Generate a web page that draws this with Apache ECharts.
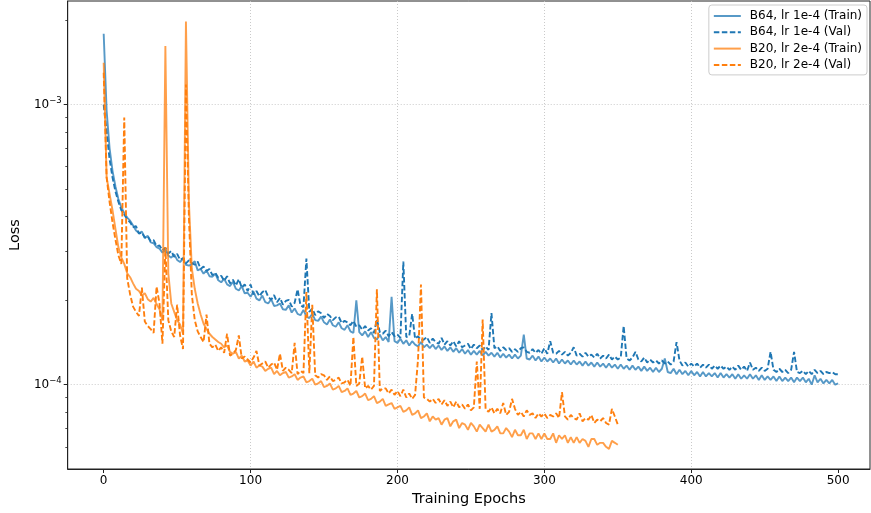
<!DOCTYPE html>
<html>
<head>
<meta charset="utf-8">
<script src="https://cdn.jsdelivr.net/npm/echarts@6/dist/echarts.min.js"></script>
<style>
html,body{margin:0;padding:0;background:#ffffff;}
#chart{width:871px;height:513px;}
</style>
</head>
<body>
<div id="chart"></div>
<script>
// Values are sampled every 2 epochs, in units of 1e-5 (loss).
const EPOCH_STEP = 2;
const VALUE_UNIT = 1e-5;

const seriesNames = ['B64, lr 1e-4 (Train)', 'B64, lr 1e-4 (Val)', 'B20, lr 2e-4 (Train)', 'B20, lr 2e-4 (Val)'];

const b64Train = [
179, 95, 70, 58, 51, 46, 43, 41, 39.5, 38.5,
37, 35.5, 34.8, 35.2, 33.4, 34.0, 32.2, 32.0, 31.0, 30.6,
29.6, 30.4, 28.9, 28.4, 29.2, 27.9, 27.4, 28.2, 26.8, 26.6,
26.9, 27.6, 25.6, 25.9, 24.9, 25.6, 24.4, 24.3, 24.9, 23.6,
23.2, 23.9, 22.8, 22.5, 23.3, 22.0, 21.7, 22.5, 21.2, 21.3,
20.6, 21.5, 20.3, 20.0, 20.8, 19.7, 19.5, 20.2, 19.1, 19.2,
19.5, 18.6, 18.5, 19.2, 18.1, 18.7, 17.9, 17.7, 18.5, 17.5,
17.3, 17.9, 17.0, 16.9, 17.5, 16.7, 16.4, 17.1, 16.3, 16.1,
16.7, 15.9, 15.7, 16.3, 15.5, 15.3, 20.0, 15.4, 15.0, 15.5,
14.8, 15.4, 14.7, 14.5, 15.1, 14.4, 14.8, 14.2, 20.6, 14.3,
14.1, 14.6, 14.0, 14.4, 13.8, 14.3, 13.9, 13.7, 14.2, 13.6,
13.9, 13.5, 13.9, 13.4, 13.8, 13.3, 13.7, 13.2, 13.6, 13.1,
13.5, 13.0, 13.4, 12.9, 13.3, 12.8, 13.2, 12.8, 13.2, 12.7,
13.1, 12.7, 13.0, 12.6, 13.0, 12.5, 12.9, 12.5, 12.8, 12.4,
12.8, 12.4, 12.7, 15.1, 12.4, 12.3, 12.7, 12.2, 12.6, 12.1,
12.5, 12.1, 12.4, 12.0, 12.4, 11.9, 12.3, 11.9, 12.2, 11.8,
12.2, 11.8, 12.1, 11.7, 12.1, 11.7, 12.0, 11.6, 12.0, 11.6,
11.9, 11.5, 11.9, 11.5, 11.8, 11.4, 11.8, 11.4, 11.7, 11.3,
11.7, 11.3, 11.6, 11.2, 11.6, 11.2, 11.5, 11.1, 11.5, 11.1,
11.4, 12.4, 11.1, 11.0, 11.4, 10.9, 11.3, 10.9, 11.2, 10.8,
11.2, 10.8, 11.1, 10.7, 11.1, 10.7, 11.0, 10.7, 11.0, 10.6,
11.0, 10.6, 10.9, 10.6, 10.9, 10.5, 10.9, 10.5, 10.8, 10.5,
10.9, 10.5, 10.8, 10.4, 10.8, 10.4, 10.7, 10.4, 10.7, 10.3,
10.7, 10.3, 10.6, 10.3, 10.6, 10.2, 10.6, 10.3, 10.6, 10.2,
10.5, 10.0, 10.8, 10.2, 10.5, 10.1, 10.4, 10.1, 10.4, 10.0,
10.1
];

const b64Val = [
100, 80, 64, 55, 49, 45, 42, 40.5, 39, 38,
36.5, 36.8, 34.6, 34.9, 33.5, 33.9, 32.5, 32.8, 31.2, 31.4,
30.2, 30.8, 29.4, 30.0, 28.6, 29.3, 27.9, 28.3, 27.1, 27.8,
27.2, 26.8, 27.5, 25.9, 26.4, 25.5, 25.9, 24.6, 25.1, 24.1,
24.5, 23.5, 24.4, 23.0, 23.7, 22.6, 23.8, 22.2, 22.8, 21.6,
22.8, 21.0, 21.6, 20.7, 21.4, 21.8, 20.6, 20.1, 20.9, 19.7,
20.4, 19.3, 19.9, 20.1, 19.0, 19.6, 21.9, 19.2, 18.9, 28.2,
18.2, 18.7, 17.7, 18.3, 18.0, 17.3, 17.9, 17.6, 17.0, 17.4,
17.5, 16.6, 16.9, 16.7, 16.3, 16.9, 16.1, 16.3, 15.7, 16.2,
15.6, 15.9, 15.3, 17.1, 15.4, 15.2, 15.6, 14.9, 15.4, 14.9,
15.1, 14.7, 27.5, 14.8, 14.9, 17.9, 14.6, 14.9, 14.4, 14.5,
14.8, 14.1, 14.6, 14.2, 14.0, 14.7, 13.9, 14.3, 13.8, 14.3,
13.7, 14.3, 13.6, 13.8, 14.0, 13.4, 13.9, 13.5, 13.8, 13.3,
13.7, 13.3, 18.0, 13.5, 13.7, 13.2, 13.6, 13.3, 13.5, 13.1,
13.4, 13.1, 13.5, 13.6, 13.1, 13.0, 13.4, 13.0, 13.3, 12.9,
13.5, 12.9, 14.3, 13.0, 12.9, 13.2, 12.8, 13.1, 12.7, 13.0,
13.6, 12.7, 12.9, 12.6, 13.0, 12.6, 12.8, 12.5, 12.9, 12.4,
12.7, 12.4, 12.8, 12.3, 12.6, 12.3, 12.5, 16.2, 12.4, 12.2,
12.5, 13.1, 12.3, 12.1, 12.5, 12.0, 12.3, 12.0, 12.2, 11.9,
12.2, 11.9, 12.1, 11.8, 12.1, 14.2, 12.2, 11.7, 12.0, 11.6,
11.9, 11.6, 11.9, 11.5, 11.8, 11.5, 11.8, 11.4, 11.7, 11.4,
11.7, 11.4, 11.6, 11.3, 11.6, 11.3, 11.7, 11.3, 11.6, 11.2,
12.0, 11.3, 11.5, 11.2, 11.5, 11.2, 11.4, 13.1, 11.3, 11.1,
11.4, 11.1, 11.3, 11.0, 11.3, 13.1, 11.1, 11.0, 11.2, 10.9,
11.2, 10.9, 11.3, 11.0, 11.2, 10.9, 11.1, 11.0, 11.1, 10.9,
10.9
];

const b20Train = [
141, 55, 48, 42, 36, 31, 28.5, 27, 25, 24.2,
23.0, 22.0, 21.6, 20.8, 21.2, 20.2, 19.8, 20.4, 19.4, 18.6,
17.0, 162, 25.0, 19.5, 18.2, 17.0, 16.4, 15.2, 198, 45,
26.0, 22.0, 19.5, 17.8, 16.5, 15.8, 15.2, 14.8, 14.5, 14.2,
14.0, 13.6, 13.8, 13.1, 12.9, 13.1, 12.4, 12.7, 12.1, 12.2,
11.7, 12.1, 11.5, 11.7, 11.6, 11.2, 11.4, 11.5, 10.9, 11.2,
10.8, 11.0, 11.1, 10.6, 10.7, 10.9, 10.4, 10.6, 10.7, 10.2,
10.3, 10.5, 10.0, 10.1, 10.3, 9.8, 9.9, 10.1, 9.6, 9.7,
9.9, 9.4, 9.5, 9.7, 9.2, 9.3, 9.5, 9.0, 9.1, 9.3,
8.8, 8.9, 9.1, 8.6, 8.7, 8.9, 8.4, 8.5, 8.6, 8.2,
8.3, 8.4, 8.0, 8.1, 8.3, 7.8, 7.9, 8.1, 7.6, 7.7,
7.9, 7.4, 7.7, 7.5, 7.6, 7.2, 7.5, 7.6, 7.1, 7.4,
7.5, 7.0, 7.3, 7.2, 6.9, 7.3, 7.1, 6.8, 7.2, 7.0,
6.8, 7.2, 6.8, 6.9, 7.1, 6.7, 6.7, 7.0, 6.8, 6.5,
6.9, 6.6, 6.6, 6.9, 6.4, 6.7, 6.7, 6.4, 6.7, 6.4,
6.7, 6.4, 6.4, 6.7, 6.2, 6.6, 6.4, 6.6, 6.2, 6.5,
6.2, 6.5, 6.2, 6.4, 6.3, 6.0, 6.4, 6.4, 6.1, 6.2,
6.2, 6.0, 5.9, 6.3, 6.2,
6.1
];

const b20Val = [
130, 55, 45, 38, 33, 29, 27, 90, 24, 21,
19.0, 18.2, 17.6, 22.2, 16.8, 16.2, 15.8, 15.3, 22.4, 19.5,
14.0, 31.0, 17.0, 15.5, 14.8, 19.3, 15.0, 13.4, 118, 40,
21.0, 17.0, 15.5, 14.8, 14.2, 17.8, 14.0, 13.6, 13.9, 13.2,
13.6, 13.0, 15.2, 12.7, 12.9, 13.3, 15.0, 12.4, 12.6, 12.3,
12.0, 12.5, 13.2, 11.7, 11.9, 12.1, 11.5, 11.8, 12.0, 11.3,
12.9, 11.2, 11.5, 11.3, 11.0, 14.1, 10.9, 11.2, 11.0, 21.4,
11.0, 19.3, 10.8, 10.6, 10.9, 10.8, 10.4, 10.7, 10.3, 10.4,
10.6, 10.1, 10.2, 10.4, 9.9, 14.8, 9.9, 10.1, 12.6, 9.7,
9.9, 9.6, 9.9, 21.9, 9.5, 9.7, 9.7, 9.3, 9.6, 9.2,
9.5, 9.1, 9.6, 9.0, 9.3, 8.9, 9.2, 12.3, 22.8, 9.0,
8.9, 8.7, 8.9, 8.6, 8.9, 8.5, 8.8, 8.4, 8.7, 8.3,
8.7, 8.3, 8.5, 8.2, 8.5, 8.1, 8.3, 12.1, 8.2, 17.1,
8.2, 8.0, 8.3, 7.9, 8.2, 7.9, 8.6, 7.8, 8.0, 8.9,
8.2, 7.8, 8.0, 7.7, 8.1, 7.8, 7.9, 7.6, 7.9, 7.7,
7.9, 7.6, 7.8, 7.7, 7.9, 7.6, 9.4, 7.7, 7.5, 7.8,
7.6, 7.5, 7.9, 7.4, 7.6, 7.5, 7.8, 7.3, 7.5, 7.4,
7.6, 7.3, 7.2, 8.2, 7.7,
7.2
];

const xTicks = [0, 100, 200, 300, 400, 500];
const yMajorTicks = [1e-4, 1e-3];
const yMinorTicks = [6e-5, 7e-5, 8e-5, 9e-5, 2e-4, 3e-4, 4e-4, 5e-4, 6e-4, 7e-4, 8e-4, 9e-4, 2e-3];

const BLUE = '#1f77b4';
const ORANGE = '#ff7f0e';

function toPairs(arr) {
  return arr.map(function (v, i) { return [i * EPOCH_STEP, v * VALUE_UNIT]; });
}

function supLabel(value) {
  const e = Math.round(Math.log10(value));
  return '{b|10}{s|' + (e < 0 ? '\u2212' : '') + Math.abs(e) + '}';
}

const FONT = 'DejaVu Sans';
const chart = echarts.init(document.getElementById('chart'), null, {renderer: 'canvas'});

const gridLine = {color: '#c4c4c4', width: 0.9, type: [1, 2]};
const spine = {color: '#222222', width: 1};

const yCommon = {
  type: 'log',
  logBase: 10,
  min: 5.0e-5,
  max: 2.344e-3
};

const option = {
  animation: false,
  backgroundColor: '#ffffff',
  textStyle: {fontFamily: FONT},
  grid: {
    left: 66, right: 1, top: 1, bottom: 44,
    show: true, borderColor: '#222222', borderWidth: 1, backgroundColor: 'transparent'
  },
  legend: {
    orient: 'vertical',
    right: 4, top: 5,
    itemWidth: 27, itemHeight: 14, itemGap: 4.3,
    padding: [5, 5, 4, 4],
    backgroundColor: 'rgba(255,255,255,0.85)',
    borderColor: '#cccccc', borderWidth: 1, borderRadius: 3,
    itemStyle: {opacity: 0},
    textStyle: {fontFamily: FONT, fontSize: 12, color: '#000000', padding: [0, 0, 0, 4]},
    data: seriesNames
  },
  xAxis: {
    type: 'value',
    min: -24.5, max: 521.7,
    name: 'Training Epochs',
    nameLocation: 'middle',
    nameGap: 23,
    nameTextStyle: {fontFamily: FONT, fontSize: 14.5, color: '#000000'},
    axisLine: {show: true, onZero: false, lineStyle: spine},
    axisTick: {show: true, length: 4, customValues: xTicks, lineStyle: spine},
    axisLabel: {customValues: xTicks, fontFamily: FONT, fontSize: 12, color: '#000000', margin: 6},
    splitLine: {show: true, showMinLine: false, showMaxLine: false, lineStyle: gridLine}
  },
  yAxis: [
    Object.assign({}, yCommon, {
      name: 'Loss',
      nameLocation: 'middle',
      nameGap: 34,
      nameTextStyle: {fontFamily: FONT, fontSize: 14.5, color: '#000000'},
      axisLine: {show: true, onZero: false, lineStyle: spine},
      axisTick: {show: true, length: 4, customValues: yMajorTicks, lineStyle: spine},
      axisLabel: {
        customValues: yMajorTicks,
        margin: 6,
        formatter: supLabel,
        rich: {
          b: {fontFamily: FONT, fontSize: 12, color: '#000000'},
          s: {fontFamily: FONT, fontSize: 8.5, color: '#000000', padding: [0, 0, 7, 0]}
        }
      },
      splitLine: {show: true, lineStyle: gridLine}
    }),
    Object.assign({}, yCommon, {
      position: 'left',
      axisLine: {show: false, onZero: false},
      axisTick: {show: true, length: 2.4, customValues: yMinorTicks, lineStyle: {color: '#222222', width: 0.8}},
      axisLabel: {show: false},
      splitLine: {show: false}
    })
  ],
  series: [
    {name: seriesNames[0], type: 'line', data: toPairs(b64Train), showSymbol: false, symbol: 'none',
      lineStyle: {color: BLUE, width: 1.9, opacity: 0.75}, itemStyle: {color: BLUE, opacity: 0.75}, z: 2},
    {name: seriesNames[1], type: 'line', data: toPairs(b64Val), showSymbol: false, symbol: 'none',
      lineStyle: {color: BLUE, width: 1.9, type: [5.5, 2.5]}, itemStyle: {color: BLUE}, z: 3},
    {name: seriesNames[2], type: 'line', data: toPairs(b20Train), showSymbol: false, symbol: 'none',
      lineStyle: {color: ORANGE, width: 1.9, opacity: 0.75}, itemStyle: {color: ORANGE, opacity: 0.75}, z: 4},
    {name: seriesNames[3], type: 'line', data: toPairs(b20Val), showSymbol: false, symbol: 'none',
      lineStyle: {color: ORANGE, width: 1.9, type: [5.5, 2.5]}, itemStyle: {color: ORANGE}, z: 5}
  ]
};
chart.setOption(option);
</script>
</body>
</html>
